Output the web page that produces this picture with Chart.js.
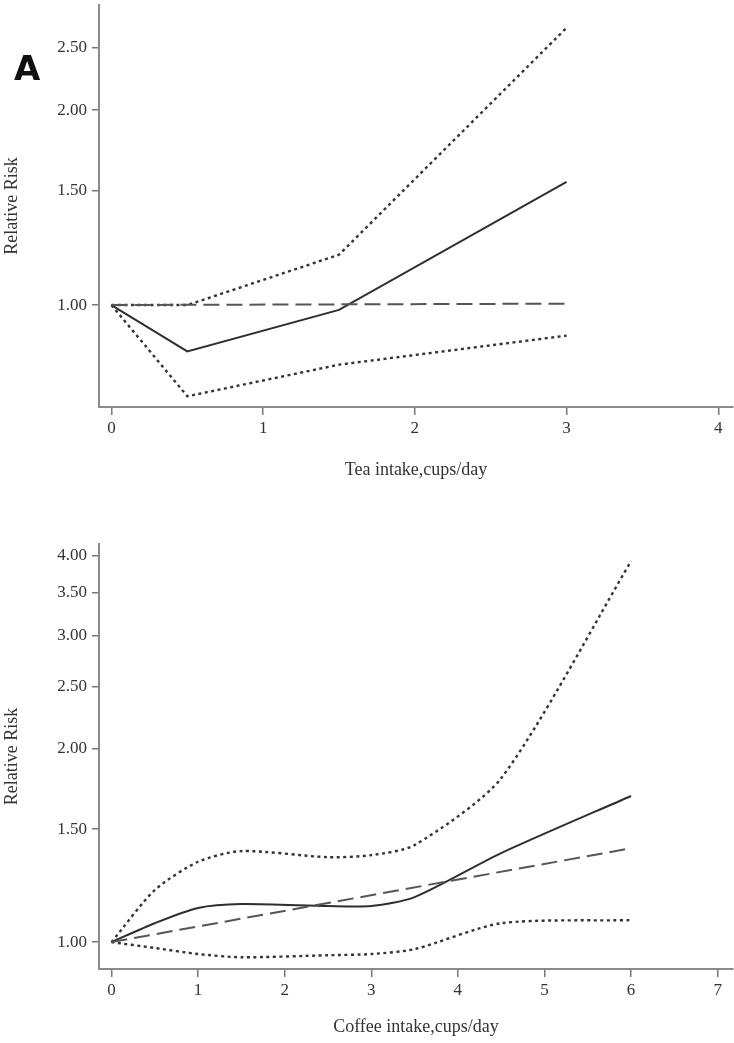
<!DOCTYPE html>
<html>
<head>
<meta charset="utf-8">
<script src="https://cdn.jsdelivr.net/npm/chart.js@4.4.1/dist/chart.umd.min.js"></script>
<style>
  body { margin: 0; background: #fff; }
  #wrap { position: relative; width: 734px; height: 1043px; }
  #teaCanvas { position: absolute; left: 0; top: 0; }
  #coffeeCanvas { position: absolute; left: 0; top: 500px; }
  #panelA { position: absolute; left: 14px; top: 51px; font: 900 34px "DejaVu Sans"; color: #111; line-height: 1; }
</style>
</head>
<body>
<div id="wrap">
  <canvas id="teaCanvas" width="734" height="500"></canvas>
  <canvas id="coffeeCanvas" width="734" height="543"></canvas>
  <div id="panelA">A</div>
</div>
<script>
// tea panel (relative risk)
var teaDose = [0, 0.5, 1.5, 3];
var teaRR = [1.00, 0.848, 0.983, 1.55];
var teaUpper = [1.00, 1.00, 1.196, 2.68];
var teaLower = [1.00, 0.723, 0.809, 0.897];
var teaLinDose = [0, 3];
var teaLinRR = [1.00, 1.005];
var teaTicksX = [0, 1, 2, 3, 4];
var teaTicksY = [1.00, 1.50, 2.00, 2.50];

// coffee panel
var coffeeDose = [0, 0.5, 1, 1.5, 2.5, 3, 3.5, 4.5, 6];
var coffeeRR = [1.00, 1.07, 1.13, 1.146, 1.138, 1.138, 1.175, 1.376, 1.689];
var coffeeUpper = [1.00, 1.205, 1.334, 1.386, 1.356, 1.366, 1.416, 1.80, 3.92];
var coffeeLower = [1.00, 0.979, 0.958, 0.947, 0.954, 0.958, 0.975, 1.07, 1.082];
var coffeeLinDose = [0, 6];
var coffeeLinRR = [1.00, 1.40];
var coffeeTicksX = [0, 1, 2, 3, 4, 5, 6, 7];
var coffeeTicksY = [1.00, 1.50, 2.00, 2.50, 3.00, 3.50, 4.00];

function pts(xs, ys) {
  return xs.map(function (x, i) { return { x: x, y: ys[i] }; });
}

function lineSet(data, kind, tension) {
  var ds = {
    data: data,
    borderColor: '#2e2e2e',
    borderWidth: 2,
    pointRadius: 0,
    fill: false,
    tension: tension
  };
  if (kind == 'ci') { ds.borderDash = [3, 3.5]; ds.borderWidth = 2.4; ds.borderColor = '#333'; }
  if (kind == 'lin') { ds.borderDash = [16, 7]; ds.borderColor = '#555'; ds.tension = 0; }
  return ds;
}

var serif = 'Liberation Serif';

function makeChart(id, o) {
  return new Chart(document.getElementById(id), {
    type: 'line',
    data: {
      datasets: [
        lineSet(pts(o.linX, o.linY), 'lin', 0),
        lineSet(pts(o.dose, o.upper), 'ci', o.tension),
        lineSet(pts(o.dose, o.lower), 'ci', o.tension),
        lineSet(pts(o.dose, o.rr), 'rr', o.tension)
      ]
    },
    options: {
      responsive: false,
      animation: false,
      layout: { padding: { top: o.top, right: 1, left: 0, bottom: 0 } },
      plugins: { legend: { display: false }, tooltip: { enabled: false } },
      scales: {
        x: {
          type: 'linear',
          min: o.xMin, max: o.xMax,
          afterBuildTicks: function (s) { s.ticks = o.ticksX.map(function (v) { return { value: v }; }); },
          afterFit: function (s) { s.height = o.xH; s.paddingLeft = 0; s.paddingRight = 0; },
          ticks: { autoSkip: false, maxRotation: 0, padding: 3, color: '#333', font: { family: serif, size: 17 },
                   callback: function (v) { return String(v); } },
          grid: { display: true, drawOnChartArea: false, drawTicks: true, tickLength: 8, color: '#777', lineWidth: 1.5 },
          border: { display: true, color: '#8a8a8a', width: 2 },
          title: { display: true, text: o.xTitle, color: '#333', font: { family: serif, size: 18 },
                   padding: { top: 0, bottom: o.xTitlePad } }
        },
        y: {
          type: 'logarithmic',
          min: o.yMin, max: o.yMax,
          afterBuildTicks: function (s) { s.ticks = o.ticksY.map(function (v) { return { value: v }; }); },
          afterFit: function (s) { s.width = 99; s.paddingTop = 0; s.paddingBottom = 0; },
          ticks: { autoSkip: false, padding: 5, color: '#333', font: { family: serif, size: 17 },
                   callback: function (v) { return Number(v).toFixed(2); } },
          grid: { display: true, drawOnChartArea: false, drawTicks: true, tickLength: 7, color: '#777', lineWidth: 1.5 },
          border: { display: true, color: '#8a8a8a', width: 2 },
          title: { display: true, text: 'Relative Risk', color: '#333', font: { family: serif, size: 18 },
                   padding: { top: 1, bottom: 0 } }
        }
      }
    }
  });
}

makeChart('teaCanvas', {
  dose: teaDose, rr: teaRR, upper: teaUpper, lower: teaLower,
  linX: teaLinDose, linY: teaLinRR, tension: 0,
  ticksX: teaTicksX, ticksY: teaTicksY,
  xMin: -0.082, xMax: 4.097, yMin: 0.696, yMax: 2.906,
  top: 5, xH: 93, xTitle: 'Tea intake,cups/day', xTitlePad: 19
});

makeChart('coffeeCanvas', {
  dose: coffeeDose, rr: coffeeRR, upper: coffeeUpper, lower: coffeeLower,
  linX: coffeeLinDose, linY: coffeeLinRR, tension: 0.25,
  ticksX: coffeeTicksX, ticksY: coffeeTicksY,
  xMin: -0.144, xMax: 7.177, yMin: 0.908, yMax: 4.17,
  top: 44, xH: 74, xTitle: 'Coffee intake,cups/day', xTitlePad: 5
});
</script>
</body>
</html>
